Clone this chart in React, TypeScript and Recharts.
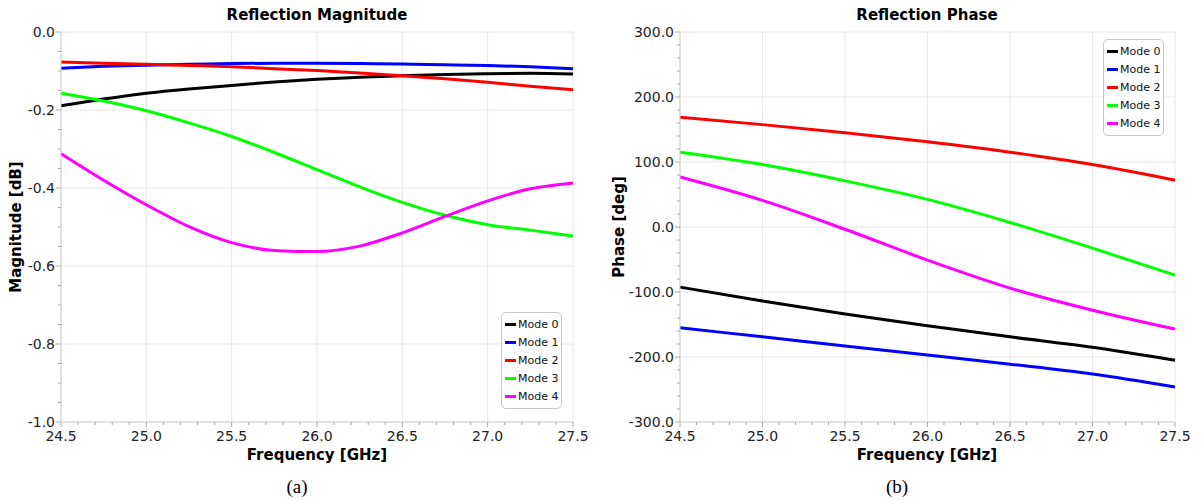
import React from 'react';
import { LineChart, Line, XAxis, YAxis, CartesianGrid } from 'recharts';

// frequency points (GHz)
const magFreqs = [24.5, 24.75, 25.0, 25.25, 25.5, 25.75, 26.0, 26.25, 26.5, 26.75, 27.0, 27.25, 27.5];
const phaseFreqs = [24.5, 25.0, 25.5, 26.0, 26.5, 27.0, 27.5];

// reflection magnitude [dB]
const magMode0 = [-0.189, -0.172, -0.157, -0.146, -0.137, -0.128, -0.121, -0.116, -0.112, -0.109, -0.107, -0.106, -0.108];
const magMode1 = [-0.093, -0.088, -0.085, -0.083, -0.081, -0.08, -0.08, -0.081, -0.082, -0.084, -0.086, -0.089, -0.094];
const magMode2 = [-0.077, -0.08, -0.083, -0.086, -0.089, -0.094, -0.099, -0.105, -0.112, -0.12, -0.129, -0.139, -0.148];
const magMode3 = [-0.157, -0.177, -0.202, -0.233, -0.268, -0.309, -0.353, -0.397, -0.437, -0.47, -0.494, -0.508, -0.523];
const magMode4 = [-0.312, -0.38, -0.443, -0.499, -0.54, -0.56, -0.563, -0.549, -0.515, -0.473, -0.433, -0.402, -0.387];

// reflection phase [deg]
const phMode0 = [-92.5, -114, -134, -152, -169, -185, -205];
const phMode1 = [-155, -169, -183, -197, -211, -226, -246];
const phMode2 = [169, 157.5, 145, 131, 115, 96, 72];
const phMode3 = [115, 96, 71, 42.5, 7, -32.5, -74];
const phMode4 = [77, 41, -3.5, -51, -94, -128, -157];

const modeNames = ['Mode 0', 'Mode 1', 'Mode 2', 'Mode 3', 'Mode 4'];
const modeColors = ['#000000', '#0000ff', '#ff0000', '#00ff00', '#ff00ff'];

// axis ticks
const xMajor = [24.5, 25.0, 25.5, 26.0, 26.5, 27.0, 27.5];
const xAll = Array.from({ length: 31 }, (_, i) => +(24.5 + i * 0.1).toFixed(1));
const magMajor = [0, -0.2, -0.4, -0.6, -0.8, -1.0];
const magAll = Array.from({ length: 21 }, (_, i) => +(-i * 0.05).toFixed(2));
const phMajor = [300, 200, 100, 0, -100, -200, -300];
const phAll = Array.from({ length: 31 }, (_, i) => 300 - i * 20);

const magData = magFreqs.map((f, i) => ({
  f,
  m0: magMode0[i],
  m1: magMode1[i],
  m2: magMode2[i],
  m3: magMode3[i],
  m4: magMode4[i],
}));
const phaseData = phaseFreqs.map((f, i) => ({
  f,
  m0: phMode0[i],
  m1: phMode1[i],
  m2: phMode2[i],
  m3: phMode3[i],
  m4: phMode4[i],
}));

const FONT = '"DejaVu Sans", Verdana, sans-serif';
const TICK_COLOR = '#222';

const isMajor = (v: number, majors: number[]) => majors.some((m) => Math.abs(m - v) < 1e-6);

function XTick(props: any) {
  const { x, y, payload } = props;
  const major = isMajor(payload.value, xMajor);
  return (
    <g>
      <line x1={x} x2={x} y1={y} y2={y + (major ? 5 : 3)} stroke="#aaa" />
      {major && (
        <text x={x} y={y + 14} textAnchor="middle" dominantBaseline="central" fill={TICK_COLOR} fontSize={14} fontFamily={FONT}>
          {payload.value.toFixed(1)}
        </text>
      )}
    </g>
  );
}

function makeYTick(majors: number[]) {
  return function YTick(props: any) {
    const { x, y, payload } = props;
    const major = isMajor(payload.value, majors);
    return (
      <g>
        <line x1={x} x2={x - (major ? 5 : 3)} y1={y} y2={y} stroke="#aaa" />
        {major && (
          <text x={x - 6} y={y} textAnchor="end" dominantBaseline="central" fill={TICK_COLOR} fontSize={14} fontFamily={FONT}>
            {payload.value.toFixed(1)}
          </text>
        )}
      </g>
    );
  };
}

function ModeLegend(props: { left: number; top: number }) {
  return (
    <div
      style={{
        position: 'absolute',
        left: props.left,
        top: props.top,
        border: '1px solid #c8c8c8',
        borderRadius: 5,
        background: '#fff',
        padding: '2px 3px 2px 3px',
        fontFamily: FONT,
        fontSize: 11,
        color: '#111',
      }}
    >
      {modeNames.map((n, i) => (
        <div key={n} style={{ display: 'flex', alignItems: 'center', height: 18.2 }}>
          <span style={{ display: 'inline-block', width: 11, height: 3, background: modeColors[i], marginRight: 2 }} />
          {n}
        </div>
      ))}
    </div>
  );
}

const keys = ['m0', 'm1', 'm2', 'm3', 'm4'];

function Panel(props: {
  data: any[];
  yMajor: number[];
  yAll: number[];
  yDomain: [number, number];
  yWidth: number;
  width: number;
}) {
  const { data, yMajor, yAll, yDomain, yWidth, width } = props;
  return (
    <LineChart width={width} height={470} data={data} margin={{ top: 32, right: 28, bottom: 0, left: 0 }}>
      <CartesianGrid stroke="#e8e8e8" horizontalValues={yMajor} verticalValues={xMajor} />
      <XAxis
        dataKey="f"
        type="number"
        domain={[24.5, 27.5]}
        ticks={xAll}
        interval={0}
        height={48}
        tickSize={0}
        tickMargin={0}
        tickLine={false}
        stroke="#cfcfcf"
        tick={<XTick />}
      />
      <YAxis
        type="number"
        domain={yDomain}
        ticks={yAll}
        interval={0}
        width={yWidth}
        tickSize={0}
        tickMargin={0}
        tickLine={false}
        stroke="#cfcfcf"
        tick={makeYTick(yMajor)}
      />
      {keys.map((k, i) => (
        <Line
          key={k}
          dataKey={k}
          name={modeNames[i]}
          type="monotone"
          stroke={modeColors[i]}
          strokeWidth={3}
          dot={false}
          isAnimationActive={false}
        />
      ))}
    </LineChart>
  );
}

const boldText: React.CSSProperties = {
  position: 'absolute',
  fontFamily: FONT,
  fontWeight: 'bold',
  fontSize: 15,
  color: '#000',
  whiteSpace: 'nowrap',
  transform: 'translate(-50%, -50%)',
};

export default function App() {
  return (
    <div style={{ position: 'fixed', left: 0, top: 0, width: 1203, height: 501, background: '#fff', overflow: 'hidden' }}>
      <div style={{ position: 'absolute', left: 0, top: 0 }}>
        <Panel data={magData} yMajor={magMajor} yAll={magAll} yDomain={[-1, 0]} yWidth={61} width={601} />
      </div>
      <div style={{ position: 'absolute', left: 590, top: 0 }}>
        <Panel data={phaseData} yMajor={phMajor} yAll={phAll} yDomain={[-300, 300]} yWidth={90} width={613} />
      </div>

      <ModeLegend left={501} top={312} />
      <ModeLegend left={1103} top={39} />

      <div style={{ ...boldText, left: 317, top: 15 }}>Reflection Magnitude</div>
      <div style={{ ...boldText, left: 927, top: 15 }}>Reflection Phase</div>
      <div style={{ ...boldText, left: 317, top: 455 }}>Frequency [GHz]</div>
      <div style={{ ...boldText, left: 927, top: 455 }}>Frequency [GHz]</div>
      <div style={{ ...boldText, left: 16, top: 227, transform: 'translate(-50%, -50%) rotate(-90deg)' }}>Magnitude [dB]</div>
      <div style={{ ...boldText, left: 619, top: 227, transform: 'translate(-50%, -50%) rotate(-90deg)' }}>Phase [deg]</div>

      <div style={{ position: 'absolute', left: 297, top: 487, transform: 'translate(-50%, -50%)', fontFamily: '"Liberation Serif", serif', fontSize: 19 }}>
        (a)
      </div>
      <div style={{ position: 'absolute', left: 897, top: 487, transform: 'translate(-50%, -50%)', fontFamily: '"Liberation Serif", serif', fontSize: 19 }}>
        (b)
      </div>
    </div>
  );
}
